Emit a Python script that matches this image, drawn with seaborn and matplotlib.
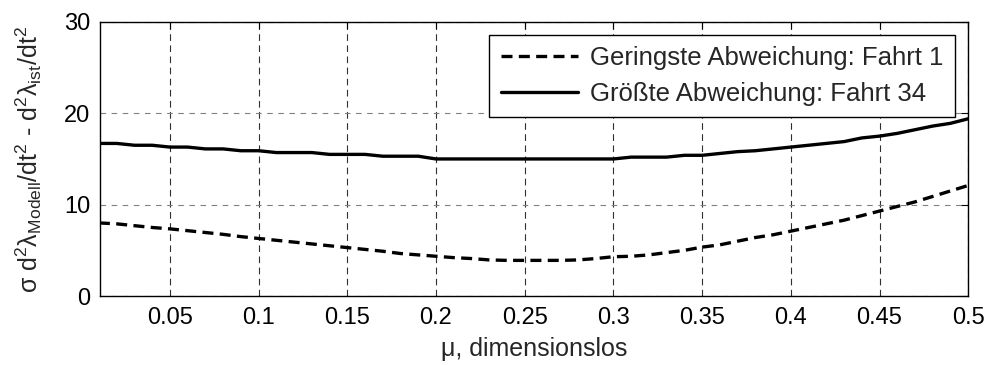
import numpy as np
import pandas as pd
import matplotlib
matplotlib.use("Agg")
import matplotlib.pyplot as plt
import seaborn as sns

# Reibwert-Stützstellen
mu = [0.01, 0.02, 0.03, 0.04, 0.05, 0.06, 0.07, 0.08, 0.09, 0.10,
      0.11, 0.12, 0.13, 0.14, 0.15, 0.16, 0.17, 0.18, 0.19, 0.20,
      0.21, 0.22, 0.23, 0.24, 0.25, 0.26, 0.27, 0.28, 0.29, 0.30,
      0.31, 0.32, 0.33, 0.34, 0.35, 0.36, 0.37, 0.38, 0.39, 0.40,
      0.41, 0.42, 0.43, 0.44, 0.45, 0.46, 0.47, 0.48, 0.49, 0.50]

# Standardabweichung, Fahrt 1
fahrt_1 = [8.0, 7.9, 7.7, 7.5, 7.35, 7.15, 6.95, 6.75, 6.5, 6.3,
           6.1, 5.9, 5.7, 5.5, 5.3, 5.1, 4.9, 4.65, 4.5, 4.35,
           4.2, 4.1, 3.95, 3.9, 3.9, 3.9, 3.9, 3.95, 4.1, 4.3,
           4.35, 4.5, 4.75, 5.0, 5.35, 5.6, 6.0, 6.4, 6.7, 7.1,
           7.5, 7.9, 8.3, 8.8, 9.3, 9.8, 10.3, 10.9, 11.5, 12.1]

# Standardabweichung, Fahrt 34
fahrt_34 = [16.7, 16.7, 16.5, 16.5, 16.3, 16.3, 16.1, 16.1, 15.9, 15.9,
            15.7, 15.7, 15.7, 15.5, 15.5, 15.5, 15.3, 15.3, 15.3, 15.0,
            15.0, 15.0, 15.0, 15.0, 15.0, 15.0, 15.0, 15.0, 15.0, 15.0,
            15.2, 15.2, 15.2, 15.4, 15.4, 15.6, 15.8, 15.9, 16.1, 16.3,
            16.5, 16.7, 16.9, 17.3, 17.5, 17.8, 18.2, 18.6, 18.9, 19.4]

labels = ["Geringste Abweichung: Fahrt 1", "Größte Abweichung: Fahrt 34"]
x_ticks = [0.05, 0.1, 0.15, 0.2, 0.25, 0.3, 0.35, 0.4, 0.45, 0.5]
x_ticklabels = ["0.05", "0.1", "0.15", "0.2", "0.25", "0.3", "0.35", "0.4", "0.45", "0.5"]
y_ticks = [0, 10, 20, 30]

sns.set_style("white")
plt.rcParams["font.family"] = ["Liberation Sans", "DejaVu Sans"]
plt.rcParams["mathtext.fontset"] = "custom"
plt.rcParams["mathtext.rm"] = "Liberation Sans"
plt.rcParams["mathtext.it"] = "Liberation Sans"

fig = plt.figure(figsize=(9.88, 3.65), dpi=100)
ax = fig.add_axes([0.101, 0.189, 0.879, 0.751])

df1 = pd.DataFrame({"mu": mu, "sigma": fahrt_1})
df2 = pd.DataFrame({"mu": mu, "sigma": fahrt_34})
sns.lineplot(data=df1, x="mu", y="sigma", ax=ax, color="black", lw=2.4,
             linestyle=(0, (3.3, 1.9)), label=labels[0])
sns.lineplot(data=df2, x="mu", y="sigma", ax=ax, color="black", lw=2.4,
             linestyle="-", label=labels[1])

ax.set_xlim(0.0105, 0.5)
ax.set_ylim(0, 30)
ax.set_xticks(x_ticks)
ax.set_xticklabels(x_ticklabels)
ax.set_yticks(y_ticks)

ax.xaxis.grid(True, color="#303030", linestyle=(0, (6, 4)), lw=0.8)
ax.yaxis.grid(True, color="#808080", linestyle=(0, (5, 5)), lw=0.8)
ax.set_axisbelow(True)

for s in ax.spines.values():
    s.set_color("black")
    s.set_linewidth(1.0)

ax.tick_params(axis="both", direction="in", length=5, width=0.8,
               top=True, right=True, labelsize=17, colors="black")
ax.tick_params(axis="x", pad=8)
ax.tick_params(axis="y", pad=7)

ax.set_xlabel("μ, dimensionslos", fontsize=18, labelpad=6)
ax.set_ylabel(r"σ d$^2$λ$_{\mathrm{Modell}}$/dt$^2$ - d$^2$λ$_{\mathrm{ist}}$/dt$^2$",
              fontsize=18, labelpad=14)

leg = ax.legend(loc="upper right", fontsize=18.5, frameon=True, fancybox=False,
                edgecolor="black", framealpha=1, handlelength=3.0,
                handletextpad=0.5, borderaxespad=0.5, borderpad=0.45,
                labelspacing=0.45)
leg.get_frame().set_linewidth(1.0)

fig.savefig("out.png", dpi=100, facecolor="white")
